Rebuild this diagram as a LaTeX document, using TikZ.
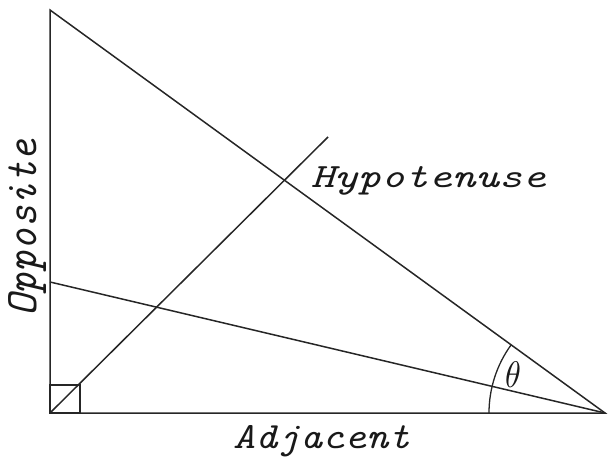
\documentclass[tikz,border=0pt]{standalone}
\usepackage{graphicx}
\begin{document}
\begin{tikzpicture}[x=1pt,y=1pt,line width=1.5pt,
  edge/.style={draw=black!85},
  lbl/.style={inner sep=0pt,text=black!90}]
\useasboundingbox (0,0) rectangle (612,463);
\coordinate (A) at (50,50);
\coordinate (B) at (50,453);
\coordinate (C) at (605,50);
\coordinate (D) at (50,181);
\coordinate (E) at (328,326);
\coordinate (S) at (80,78);
\draw[edge] (A) -- (B) -- (C) -- cycle;
\draw[edge] (C) -- (D);
\draw[edge] (A) -- (E);
\draw[edge,line width=1.3pt] (A) rectangle (S);
\draw[edge,line width=1.3pt] ([shift={(144:116)}]C) arc[start angle=144,end angle=180,radius=116];
\node[lbl,anchor=base west] (hyp) at (310,275) {\scalebox{4.48}[3.4]{\ttfamily\itshape Hypotenuse}};
\node[lbl,anchor=base west] (adj) at (233,15) {\scalebox{4.21}[3.7]{\ttfamily\itshape Adjacent}};
\node[lbl,anchor=base,rotate=90] (opp) at (37,235) {\scalebox{4.21}[4.5]{\ttfamily\itshape Opposite}};
\node[lbl] (th) at (513,88) {\scalebox{3.2}[3.7]{$\theta$}};
\end{tikzpicture}
\end{document}
